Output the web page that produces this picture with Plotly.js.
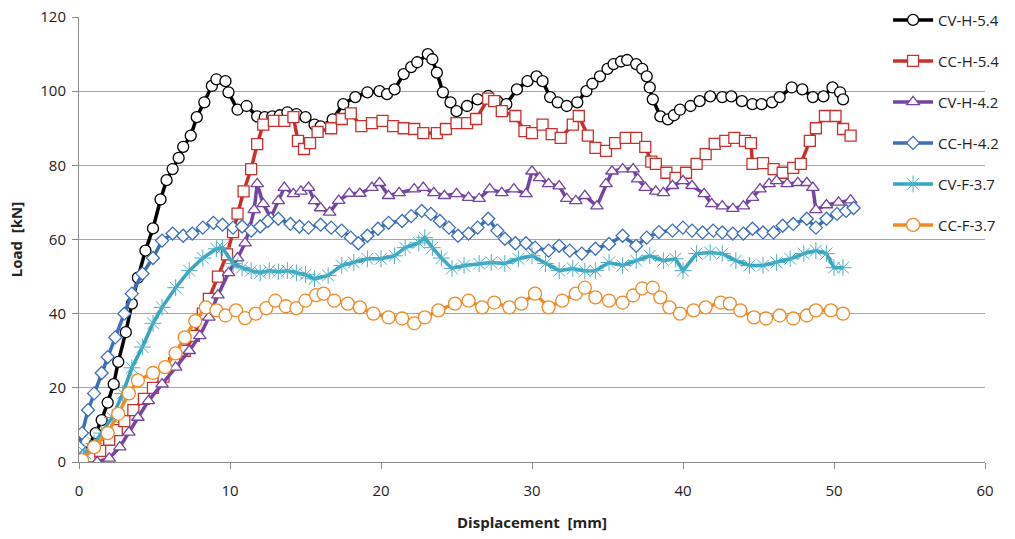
<!DOCTYPE html>
<html><head><meta charset="utf-8">
<script src="https://cdn.plot.ly/plotly-3.0.1.min.js"></script>
<style>html,body{margin:0;padding:0;background:#fff}#chart{width:1015px;height:539px}</style>
</head><body><div id="chart"></div>
<script>
// CV-H-5.4
const cvh54_x = [0,0.4,1.1,1.5,1.9,2.3,2.6,3.1,3.5,3.9,4.4,4.9,5.4,5.8,6.2,6.6,6.9,7.4,7.8,8.3,8.8,9.1,9.7,9.9,10.5,11.1,11.8,12.3,12.8,13.3,13.8,14.4,15.0,15.6,16.0,16.8,17.5,18.3,19.1,19.9,20.4,20.9,21.5,22.0,22.4,23.1,23.4,23.7,24.1,24.6,25.0,25.7,26.4,27.1,27.7,28.3,29.0,29.7,30.3,30.7,31.2,31.7,32.3,33.0,33.6,34.0,34.5,35.0,35.4,35.9,36.3,36.9,37.3,37.6,37.8,38.0,38.5,39.0,39.4,39.8,40.5,41.1,41.8,42.6,43.2,43.9,44.6,45.2,45.9,46.4,47.2,47.9,48.6,49.3,49.9,50.4,50.6];
const cvh54_y = [0,2.4,7.8,11.3,16,21,27,35,42.7,49.7,57,63,70.8,76,79,82,85,88,93,97,101.4,103.2,102.7,99.7,95,96,93.2,93,93.2,93.5,94.3,93.8,93,91,90.5,92.4,96.5,98.4,99.7,100,99.2,100.5,104.6,106.5,107.8,110,108.6,105,99.7,97,94.6,96,97.8,98.7,97.3,96.5,100.5,102.7,104,102.7,98.4,97,96,97,100,102,104,106,107.3,108,108.4,107.3,106,104,101,97.8,93.2,92.4,93.5,95,96,97.3,98.6,98.4,98.6,97.3,96.5,96.5,97,98.4,101,100.5,98.4,98.6,101,99.7,97.8];
// CC-H-5.4
const cch54_x = [0,0.7,1.4,2.0,2.5,3.0,3.6,4.3,4.9,5.6,6.3,7.0,7.6,8.2,8.6,9.2,9.8,10.2,10.5,10.9,11.4,11.8,12.2,12.9,13.6,14.2,14.5,14.9,15.3,15.8,16.7,17.4,18.0,18.7,19.4,20.1,20.8,21.5,22.2,22.8,23.7,24.3,25.0,25.7,26.3,27.1,27.5,28.0,28.9,29.5,30.0,30.7,31.3,31.9,32.7,33.1,33.7,34.2,34.9,35.5,36.2,36.9,37.5,37.9,38.2,38.9,39.5,40.2,40.9,41.5,42.1,42.8,43.4,44.1,44.5,44.6,45.3,46.0,46.6,47.3,47.8,48.4,48.8,49.4,50.1,50.6,51.1];
const cch54_y = [0,1.5,3,6,8.6,11,14,17,20,23,26.6,30,34,40,44,50,56,62,67,73,79,85.7,91,92,92,93,86.6,84.4,86,89,90,92.5,94,90.6,91.4,92,90.6,90,89.8,88.7,88.7,89.8,91.4,91.4,92.5,98,97.3,94.6,93.3,89.2,88.7,91,88.4,87.4,91,93.3,88,84.7,83.9,86,87.4,87.4,85,81,80.4,78,76.6,78,80.4,83,85.8,86.6,87.4,86.6,86,80.4,80.6,79,78,79.3,80.4,86.6,90,93.3,93.3,89.8,88];
// CV-H-4.2
const cvh42_x = [1.2,2.0,2.7,3.3,3.9,4.6,5.5,6.4,7.3,8.0,8.6,9.2,9.9,10.5,11.0,11.3,11.6,11.8,12.2,12.7,13.2,13.6,14.2,14.7,15.2,15.6,16.0,16.6,17.2,17.9,18.6,19.4,19.9,20.5,21.2,22.2,22.8,23.5,24.2,25.0,25.8,26.5,27.2,28.0,28.8,29.6,30.0,30.5,31.1,31.8,32.3,32.9,33.5,34.3,34.9,35.3,36.0,36.7,37.0,37.5,38.2,38.7,39.3,40.0,40.6,41.4,41.9,42.6,43.3,44.0,44.6,45.1,45.7,46.2,46.9,47.6,48.2,48.6,48.8,49.5,50.3,51.1];
const cvh42_y = [0,1,4,8,12,16.5,21,25.5,30,34,39,45,51,55,59,63,68,75,69.6,65.9,70.4,74,72.3,73,74,70.4,68.5,67.3,70.5,72.4,72.4,74,75.3,71.8,72.6,73.6,74,72.6,71.8,72.3,71.3,71,73.6,72.6,73.6,72.3,78.4,76.6,75,74.4,71,70.4,71.8,69,75,78.4,79,79,76.3,74,73,72.6,74.5,75.8,74.5,72.3,69.6,69,68.3,69,71.3,73.6,75,75.8,75,75.3,75.3,74,68,69.3,70,70.6];
// CC-H-4.2
const cch42_x = [0,0.2,0.6,1.0,1.5,1.9,2.4,3.0,3.5,4.2,4.9,5.5,6.2,6.9,7.5,8.2,8.9,9.5,10.2,10.8,11.4,12.0,12.5,13.2,14.0,14.6,15.2,16.0,16.7,17.4,18.0,18.5,19.1,19.8,20.5,21.4,22.0,22.7,23.3,23.9,24.5,25.1,25.8,26.4,27.1,27.7,28.2,28.9,29.6,30.2,31.1,31.8,32.5,33.3,34.2,35.1,36.0,36.9,37.6,38.4,39.3,40.0,40.6,41.3,42.0,42.6,43.3,44.0,44.6,45.3,46.0,46.6,47.3,48.2,48.8,49.5,50.2,50.8,51.3];
const cch42_y = [4,7.8,14,18.5,24,28.3,33.6,40,45.4,50.8,55,59.7,61.6,61,61.6,63.2,64.5,64,63.2,63.5,62.4,63.5,65,65.6,64.2,63.5,63.2,64,63.2,62.4,60.5,59,61,62.9,64.5,65,66.3,67.7,66.9,65,63.2,61,61.6,63.2,65.6,62.4,60.2,59,59,57.8,57,58.3,57,56.2,57.5,58.8,61,58.3,60.5,62,62.4,63.2,62.4,61.9,62.4,61.9,61.6,61.6,62.9,61.9,61.9,63.7,64.2,65.6,63.2,65.6,66.9,67.7,68.5];
// CV-F-3.7
const cvf37_x = [0,0.4,1.0,1.5,2.2,2.9,3.5,4.2,4.9,5.5,6.4,7.3,8.2,9.1,9.5,10.2,10.8,11.4,12.0,12.6,13.2,13.8,14.4,15.0,15.6,16.5,17.4,18.2,19.1,20.0,20.9,21.6,22.5,22.9,23.4,24.0,24.7,25.5,26.5,27.3,28.2,29.1,30.0,30.9,31.8,32.7,33.5,34.2,35.1,36.0,36.9,37.8,38.7,39.5,40.0,40.9,41.8,42.6,43.5,44.4,45.3,46.2,47.1,48.0,48.8,49.5,50.0,50.6];
const cvf37_y = [0,2.4,5,7.8,12,18.5,25.4,31,37.4,41.7,47,51.6,55,57.5,57.8,53.5,52.4,51.6,51,51.6,51.3,51.6,51,50.5,49.4,50.3,53,53.8,54.8,54.8,55.6,57.8,59.1,60.5,57.8,55,52.2,53,53.5,53.8,53.5,54.8,55.6,53.5,51.6,52.2,51.5,51.6,53.8,53,54.3,55.6,54.3,54.8,51.6,56.2,56.5,56.2,54.3,53,53,53.8,54.8,56.2,57,56.2,52.4,52.4];
// CC-F-3.7
const ccf37_x = [0,0.2,1.0,1.9,2.6,3.3,3.9,4.9,5.7,6.4,7.0,7.7,8.4,9.1,9.7,10.4,11.0,11.7,12.4,13.0,13.7,14.4,15.0,15.7,16.2,16.9,17.8,18.6,19.5,20.5,21.4,22.2,22.9,23.8,24.9,25.8,26.7,27.5,28.5,29.3,30.2,31.1,32.0,32.9,33.5,34.2,35.1,36.0,36.7,37.3,38.0,38.5,39.1,39.8,40.7,41.5,42.5,43.1,43.8,44.7,45.5,46.4,47.3,48.2,48.8,49.8,50.6];
const ccf37_y = [0,0.5,4,7.8,13,18.5,22,24,25.6,29.3,33.6,38,41.7,40.9,39.5,40.9,38.8,40,41.5,43.5,42,41.5,43.5,45,45.4,43.5,42.7,41.7,40,39,38.7,37.4,39,40.9,42.7,43.5,41.7,43,41.7,42.7,45.4,41.7,43.5,45.4,47,44.4,43.5,43,44.9,46.8,47,44.4,41.7,40,40.9,41.7,43,42.7,40.9,39,38.7,39.5,38.7,39.5,40.9,40.9,40];

const seriesNames = ['CV-H-5.4','CC-H-5.4','CV-H-4.2','CC-H-4.2','CV-F-3.7','CC-F-3.7'];
const xTicks = [0,10,20,30,40,50,60];
const yTicks = [0,20,40,60,80,100,120];

const styles = [
  {c:'#000000', s:'circle', sz:11, fill:'#ffffff', lw:1.3},
  {c:'#c9302c', s:'square', sz:11, fill:'#ffffff', lw:1.3},
  {c:'#7543a0', s:'triangle-up', sz:11, fill:'#ffffff', lw:1.3},
  {c:'#3b6fba', s:'diamond', sz:10, fill:'#ffffff', lw:1.3},
  {c:'#35a5c0', s:'asterisk-open', sz:14, fill:'#4bb0c8', lw:1},
  {c:'#f08a24', s:'circle', sz:13, fill:'#ffffff', lw:1.3}
];
const xs = [cvh54_x,cch54_x,cvh42_x,cch42_x,cvf37_x,ccf37_x];
const ys = [cvh54_y,cch54_y,cvh42_y,cch42_y,cvf37_y,ccf37_y];

const traces = seriesNames.map((n,i)=>({
  type:'scatter', mode:'lines+markers', name:n, x:xs[i], y:ys[i],
  legendgroup:'g'+i,
  line:{color:styles[i].c, width:3.5},
  marker:{symbol:styles[i].s, size:styles[i].sz, color:styles[i].fill,
          line:{color:styles[i].c, width:styles[i].lw}}
}));

const fontFam = '"Open Sans", "Liberation Sans", sans-serif';
const layout = {
  width:1015, height:539,
  margin:{l:79, r:30, t:17, b:77, autoexpand:false},
  paper_bgcolor:'#ffffff', plot_bgcolor:'#ffffff',
  font:{family:fontFam, size:15, color:'#222'},
  showlegend:true,
  legend:{x:0.893, y:1.03, xanchor:'left', yanchor:'top', traceorder:'grouped',
          tracegroupgap:18.5, bgcolor:'rgba(255,255,255,0)', font:{size:15, color:'#222'},
          itemwidth:40},
  xaxis:{range:[0,60], tickvals:xTicks, ticktext:xTicks.map(String), showgrid:false,
         zeroline:false, showline:true, linecolor:'#8c8c8c', linewidth:1,
         ticks:'outside', ticklen:6, tickcolor:'#8c8c8c', ticklabelstandoff:9,
         title:{text:'<b>Displacement  [mm]</b>', font:{size:15}, standoff:18}},
  yaxis:{range:[0,120], tickvals:yTicks, ticktext:yTicks.map(String), showgrid:true,
         gridcolor:'#a6a6a6', gridwidth:1, zeroline:false, showline:true,
         linecolor:'#8c8c8c', linewidth:1, ticks:'outside', ticklen:6, tickcolor:'#8c8c8c',
         ticklabelstandoff:3,
         title:{text:'<b>Load  [kN]</b>', font:{size:15}, standoff:14}}
};
Plotly.newPlot('chart', traces, layout, {displayModeBar:false, staticPlot:true});
</script>
</body></html>
